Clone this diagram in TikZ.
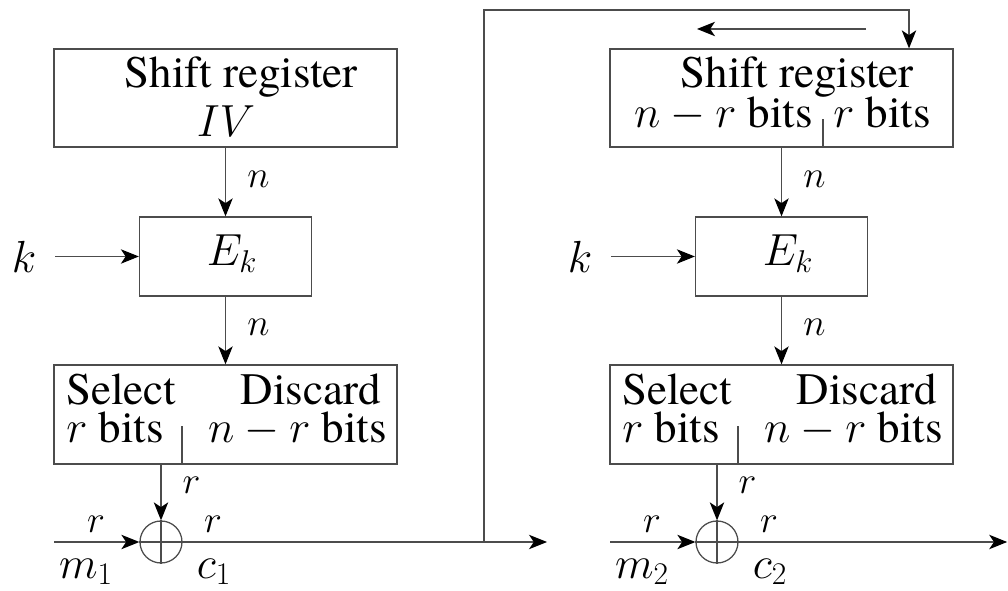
\RequirePackage{fix-cm}
\documentclass[tikz,border=0pt]{standalone}
\usepackage[no-math]{fontspec}
\IfFontExistsTF{texgyretermes-regular.otf}{\setmainfont{texgyretermes-regular.otf}}{%
  \IfFontExistsTF{Liberation Serif}{\setmainfont{Liberation Serif}}{\setmainfont{DejaVu Serif}}}
\usetikzlibrary{arrows.meta, positioning, calc}

\begin{document}
\begin{tikzpicture}[
    font=\fontsize{32}{38}\selectfont,
    box/.style={draw=black!70, line width=0.9pt, inner sep=0pt},
    wide/.style={box, minimum width=8.575cm, minimum height=2.45cm},
    enc/.style={box, minimum width=4.3cm, minimum height=1.975cm},
    xor/.style={circle, draw=black!70, line width=0.9pt, minimum size=1.05cm, inner sep=0pt},
    txt/.style={inner sep=0pt},
    lbl/.style={inner sep=0pt, anchor=base, font=\fontsize{27}{32}\selectfont},
    wire/.style={draw=black!70, line width=0.9pt},
    arr/.style={wire, -{Stealth[length=0.45cm, width=0.36cm, inset=0.12cm, black]}}
]
    \useasboundingbox (0,0) rectangle (25.2,14.75);

    % first stage: register loaded with IV
    \begin{scope}[shift={(0,0)}]
        \node[wide] (sr1) at (5.6375, 12.3) {};
        \node[txt, anchor=base] (sr1a) at (6.025, 12.55) {Shift register};
        \node[txt, anchor=base] (iv) at (5.65, 11.325) {$IV$};

        \node[enc] (ek1) at (5.6375, 8.3375) {};
        \node[txt, anchor=base] (ek1a) at (5.8, 8.1) {$E_k$};
        \node (k1) at (0.6, 8.3375) {$k$};

        \node[wide, minimum height=2.475cm] (sel1) at (5.6375, 4.3875) {};
        \node[txt, anchor=base west] (sel1a) at (1.65, 4.625) {Select};
        \node[txt, anchor=base east] (sel1b) at (9.525, 4.625) {Discard};
        \node[txt, anchor=base west] (sel1c) at (1.65, 3.675) {$r$ bits};
        \node[txt, anchor=base east] (sel1d) at (9.675, 3.675) {$n-r$ bits};
        \draw[wire] ([xshift=-1.0875cm]sel1.south) -- ++(0,0.975);

        \node[xor] (xo1) at (4.025, 1.2) {};
        \draw[wire] (xo1.north) -- (xo1.south) (xo1.west) -- (xo1.east);
        \coordinate (in1) at (1.35, 1.2);
        \coordinate (out1) at (13.675, 1.2);
        \coordinate (tap) at (12.1, 1.2);

        \draw[arr] (sr1.south) -- (ek1.north);
        \draw[arr, shorten <=0.35cm] (k1.east) -- (ek1.west);
        \draw[arr] (ek1.south) -- (sel1.north);
        \draw[arr] (sel1.south -| xo1.north) -- (xo1.north);
        \draw[arr] (in1) -- (xo1.west);
        \draw[arr] (xo1.east) -- (out1);

        \node[lbl] (n1a) at (6.46, 10.05) {$n$};
        \node[lbl] (n1b) at (6.46, 6.35) {$n$};
        \node[lbl] (r1a) at (4.79, 2.4) {$r$};
        \node[lbl] (r1b) at (2.4, 1.425) {$r$};
        \node[lbl] (r1c) at (5.325, 1.425) {$r$};
        \node[txt, anchor=base] (m1) at (2.15, 0.3) {$m_1$};
        \node[txt, anchor=base] (c1) at (5.35, 0.3) {$c_1$};
    \end{scope}

    % second stage: register fed back with c1
    \begin{scope}[shift={(13.9,0)}]
        \node[wide] (sr2) at (5.6375, 12.3) {};
        \node[txt, anchor=base] (sr2a) at (6.025, 12.55) {Shift register};
        \node[txt, anchor=base east] (sr2b) at (6.425, 11.55) {$n-r$ bits};
        \node[txt, anchor=base west] (sr2c) at (6.925, 11.55) {$r$ bits};
        \draw[wire] ([xshift=1.0375cm]sr2.south) -- ++(0,0.725);
        \coordinate (sh1) at (7.75, 14.025);
        \coordinate (sh2) at (3.525, 14.025);
        \coordinate (fb) at (8.825, 14.5);

        \node[enc] (ek2) at (5.6375, 8.3375) {};
        \node[txt, anchor=base] (ek2a) at (5.8, 8.1) {$E_k$};
        \node (k2) at (0.6, 8.3375) {$k$};

        \node[wide, minimum height=2.475cm] (sel2) at (5.6375, 4.3875) {};
        \node[txt, anchor=base west] (sel2a) at (1.65, 4.625) {Select};
        \node[txt, anchor=base east] (sel2b) at (9.525, 4.625) {Discard};
        \node[txt, anchor=base west] (sel2c) at (1.65, 3.675) {$r$ bits};
        \node[txt, anchor=base east] (sel2d) at (9.675, 3.675) {$n-r$ bits};
        \draw[wire] ([xshift=-1.0875cm]sel2.south) -- ++(0,0.975);

        \node[xor] (xo2) at (4.025, 1.2) {};
        \draw[wire] (xo2.north) -- (xo2.south) (xo2.west) -- (xo2.east);
        \coordinate (in2) at (1.35, 1.2);
        \coordinate (out2) at (11.28, 1.2);

        \draw[arr] (sr2.south) -- (ek2.north);
        \draw[arr, shorten <=0.35cm] (k2.east) -- (ek2.west);
        \draw[arr] (ek2.south) -- (sel2.north);
        \draw[arr] (sel2.south -| xo2.north) -- (xo2.north);
        \draw[arr] (in2) -- (xo2.west);
        \draw[arr] (xo2.east) -- (out2);
        \draw[arr] (sh1) -- (sh2);

        \node[lbl] (n2a) at (6.46, 10.05) {$n$};
        \node[lbl] (n2b) at (6.46, 6.35) {$n$};
        \node[lbl] (r2a) at (4.79, 2.4) {$r$};
        \node[lbl] (r2b) at (2.4, 1.425) {$r$};
        \node[lbl] (r2c) at (5.325, 1.425) {$r$};
        \node[txt, anchor=base] (m2) at (2.15, 0.3) {$m_2$};
        \node[txt, anchor=base] (c2) at (5.35, 0.3) {$c_2$};
    \end{scope}

    % feedback of c1 into the second register
    \draw[arr] (tap) |- (fb) -- (fb |- sr2.north);
\end{tikzpicture}
\end{document}
